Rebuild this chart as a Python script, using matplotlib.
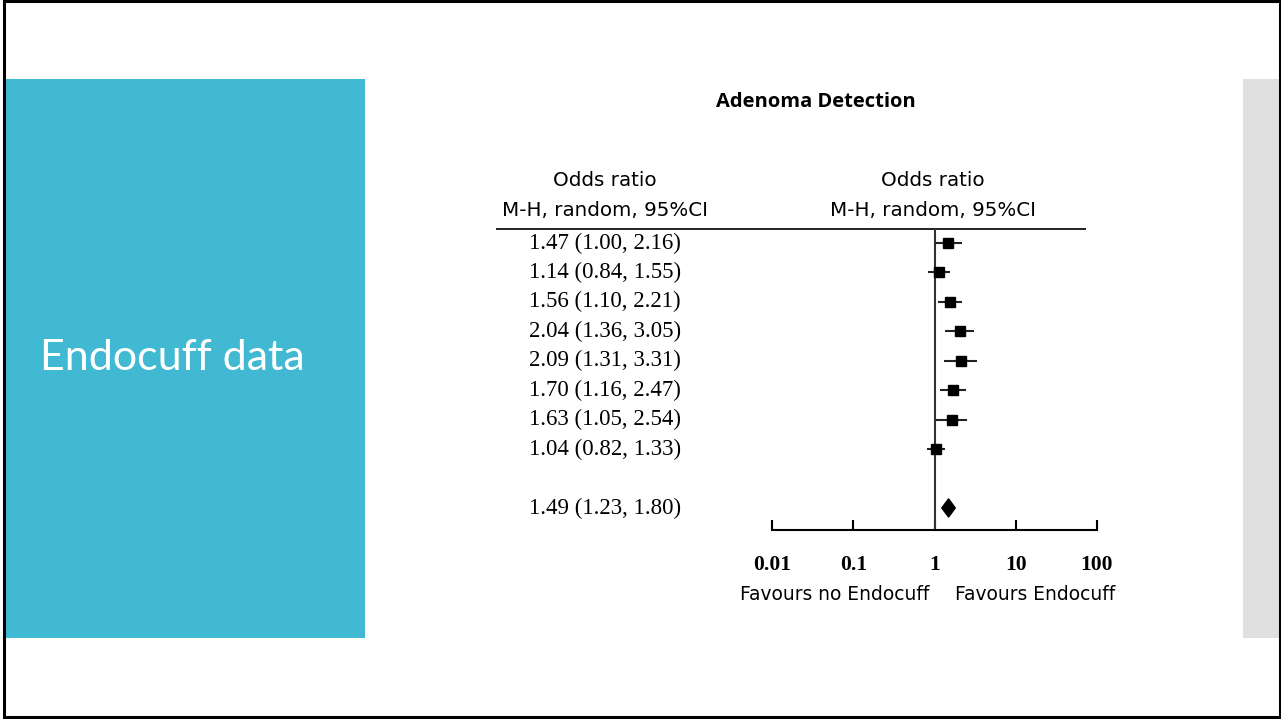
import numpy as np
import matplotlib.pyplot as plt
from matplotlib.patches import Rectangle, Polygon
from matplotlib.lines import Line2D
import matplotlib.transforms as mtransforms

# study odds ratios with 95% CI
odds = [1.47, 1.14, 1.56, 2.04, 2.09, 1.70, 1.63, 1.04]
lower = [1.00, 0.84, 1.10, 1.36, 1.31, 1.16, 1.05, 0.82]
upper = [2.16, 1.55, 2.21, 3.05, 3.31, 2.47, 2.54, 1.33]
pooled = (1.49, 1.23, 1.80)
ticks = [0.01, 0.1, 1, 10, 100]
tick_labels = ['0.01', '0.1', '1', '10', '100']

W, H = 1281, 719
fig = plt.figure(figsize=(W / 100, H / 100), dpi=100)
fig.patch.set_facecolor('white')

# slide decoration
bg = fig.add_axes([0, 0, 1, 1])
bg.set_xlim(0, W)
bg.set_ylim(H, 0)
bg.axis('off')
bg.add_patch(Rectangle((5, 79), 360, 559, color='#41b9d3', lw=0))
bg.add_patch(Rectangle((1243, 79), 37, 559, color='#e0e0e0', lw=0))
bg.add_patch(Rectangle((4, 1), 1275.5, 715.5, fill=False, ec='black', lw=2.2))
bg.text(40, 358, 'Endocuff data', color='white', fontsize=31, family='Lato',
        va='center', ha='left')
bg.text(816, 102, 'Adenoma Detection', fontsize=14.5, weight='bold',
        family='Open Sans', ha='center', va='center')
for xc in (605, 933):
    bg.text(xc, 181, 'Odds ratio', fontsize=14.3, family='DejaVu Sans',
            ha='center', va='center')
    bg.text(xc, 211, 'M-H, random, 95%CI', fontsize=14.3, family='DejaVu Sans',
            ha='center', va='center')
bg.add_line(Line2D([497, 1085], [229, 229], color='#222222', lw=1.4))
bg.text(835, 594, 'Favours no Endocuff', fontsize=13.4, family='DejaVu Sans',
        ha='center', va='center')
bg.text(1035, 594, 'Favours Endocuff', fontsize=13.4, family='DejaVu Sans',
        ha='center', va='center')

# forest plot
x0, x1 = 772 / W, 1097 / W
ytop, ybot = 229, 530
ax = fig.add_axes([x0, 1 - ybot / H, x1 - x0, (ybot - ytop) / H])
ax.set_xscale('log')
ax.set_xlim(0.01, 100)
ax.patch.set_alpha(0)
n = len(odds)
rows = np.arange(n)
sum_row = n + 1
step = 29.44
ax.set_ylim((ybot - 243) / step, (ytop - 243) / step)

ax.axvline(1, color='#333333', lw=1.5)
ax.hlines(rows, lower, upper, color='#222222', lw=1.5)
ax.plot(odds, rows, 's', color='black', ms=6.5)
m, lo, hi = pooled
ax.add_patch(Polygon([(lo, sum_row), (m, sum_row - 0.31), (hi, sum_row),
                      (m, sum_row + 0.31)], closed=True, color='black'))

for s in ('top', 'left', 'right'):
    ax.spines[s].set_visible(False)
ax.spines['bottom'].set_linewidth(1.5)
ax.set_yticks([])
ax.set_xticks(ticks)
ax.set_xticklabels(tick_labels)
ax.minorticks_off()
ax.tick_params(axis='x', direction='in', length=7, width=1.5, pad=18,
               labelsize=15.5)
for lab in ax.get_xticklabels():
    lab.set_family('Liberation Serif')
    lab.set_weight('bold')

# left column of values
trans = mtransforms.blended_transform_factory(fig.transFigure, ax.transData)
labels = [f'{o:.2f} ({l:.2f}, {u:.2f})' for o, l, u in zip(odds, lower, upper)]
for r, t in zip(rows, labels):
    ax.text(605 / W, r, t, transform=trans, ha='center', va='center',
            fontsize=16.5, family='Liberation Serif')
ax.text(605 / W, sum_row, f'{m:.2f} ({lo:.2f}, {hi:.2f})', transform=trans,
        ha='center', va='center', fontsize=16.5, family='Liberation Serif')

fig.savefig('out.png', dpi=100)
